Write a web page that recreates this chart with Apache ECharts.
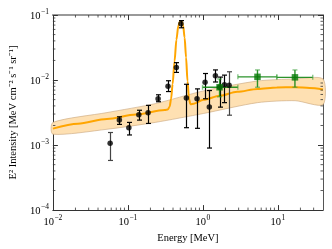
<!DOCTYPE html>
<html><head><meta charset="utf-8">
<script src="https://cdn.jsdelivr.net/npm/echarts@6/dist/echarts.min.js"></script>
<style>html,body{margin:0;padding:0;background:#fff}#c{width:332px;height:249px}</style>
</head><body><div id="c"></div>
<script>
// ---- data ----
const blackE  = [0.058, 0.077, 0.103, 0.140, 0.186, 0.253, 0.343, 0.443, 0.510, 0.603, 0.836, 1.07, 1.22, 1.47, 1.67, 1.94, 2.24];
const blackI  = [1.07e-3, 2.42e-3, 1.85e-3, 2.92e-3, 3.13e-3, 5.15e-3, 8.04e-3, 1.56e-2, 7.31e-2, 5.28e-3, 5.15e-3, 9.23e-3, 3.86e-3, 1.16e-2, 7.74e-3, 8.49e-3, 8.32e-3];
const blackLo = [5.8e-4, 2.08e-3, 1.43e-3, 2.42e-3, 2.15e-3, 4.64e-3, 6.65e-3, 1.31e-2, 6.36e-2, 1.85e-3, 1.81e-3, 5.15e-3, 9.0e-4, 9.33e-3, 3.83e-3, 4.49e-3, 2.88e-3];
const blackHi = [1.56e-3, 2.72e-3, 2.23e-3, 3.43e-3, 4.08e-3, 5.93e-3, 9.75e-3, 1.85e-2, 8.2e-2, 8.6e-3, 7.31e-3, 1.26e-2, 6.89e-3, 1.43e-2, 1.11e-2, 1.19e-2, 1.34e-2];

const greenE   = [1.67, 5.35, 16.9];
const greenElo = [0.99, 2.93, 9.69];
const greenEhi = [2.93, 9.69, 29.2];
const greenI   = [7.74e-3, 1.12e-2, 1.10e-2];
const greenIlo = [5.52e-3, 7.74e-3, 7.74e-3];
const greenIhi = [1.04e-2, 1.43e-2, 1.43e-2];

const modelE = [0.01, 0.0216, 0.0526, 0.128, 0.311, 0.340, 0.361, 0.377, 0.395, 0.419, 0.444, 0.471, 0.500, 0.523, 0.546, 0.571, 0.597, 0.624, 0.653, 0.682, 0.757, 1.02, 1.69, 2.87, 5.35, 9.68, 17.0, 26.5, 40];
const modelI = [1.79e-3, 2.13e-3, 2.52e-3, 2.95e-3, 3.45e-3, 3.51e-3, 3.90e-3, 5.15e-3, 8.69e-3, 1.94e-2, 4.18e-2, 6.81e-2, 8.11e-2, 8.11e-2, 6.81e-2, 4.49e-2, 2.23e-2, 9.66e-3, 5.15e-3, 4.26e-3, 4.33e-3, 4.98e-3, 5.73e-3, 6.58e-3, 7.31e-3, 7.70e-3, 7.74e-3, 7.56e-3, 7.18e-3];

const bandE  = [0.01, 0.0527, 0.231, 1.02, 5.35, 17.0, 40];
const bandHi = [2.23e-3, 3.16e-3, 4.33e-3, 6.81e-3, 9.66e-3, 1.04e-2, 1.04e-2];
const bandLo = [1.47e-3, 1.75e-3, 2.23e-3, 3.06e-3, 4.49e-3, 4.81e-3, 4.18e-3];

const xTicks = [0.01, 0.1, 1, 10];
const yTicks = [1e-4, 1e-3, 1e-2, 1e-1];
const xLabel = 'Energy [MeV]';
const yLabel = 'E² Intensity [MeV cm⁻² s⁻¹ sr⁻¹]';
// ---------------------------------------

const SERIF = 'Liberation Serif, Times New Roman, serif';
const X_MIN = 0.01, X_MAX = 40, Y_MIN = 1e-4, Y_MAX = 0.1;

function powLabel(v) {
  const l = Math.log10(v), e = Math.round(l);
  if (Math.abs(l - e) > 1e-6) return '';
  return '{b|10}{s|' + (e < 0 ? '\u2212' : '') + Math.abs(e) + '}';
}
const rich = {
  b: { fontFamily: SERIF, fontSize: 10.5, color: '#000', lineHeight: 14, verticalAlign: 'bottom' },
  s: { fontFamily: SERIF, fontSize: 7.5, color: '#000', lineHeight: 14, verticalAlign: 'top', padding: [0, 0, 0, 0.5] }
};

// minor tick values (2..9 x 10^k) within axis ranges
const minorX = [], minorY = [];
for (let k = -2; k <= 1; k++) for (let m = 2; m <= 9; m++) { const v = m * Math.pow(10, k); if (v < X_MAX) minorX.push(v); }
for (let k = -4; k <= -2; k++) for (let m = 2; m <= 9; m++) minorY.push(m * Math.pow(10, k));

const chart = echarts.init(document.getElementById('c'), null, { renderer: 'canvas' });

const axisCommonX = {
  type: 'log', logBase: 10, min: X_MIN, max: X_MAX,
  splitLine: { show: false },
  axisTick: { inside: true, length: 5, lineStyle: { color: '#333', width: 1 } },
};
const axisCommonY = {
  type: 'log', logBase: 10, min: Y_MIN, max: Y_MAX,
  splitLine: { show: false },
  axisTick: { inside: true, length: 5, lineStyle: { color: '#333', width: 1 } },
};

chart.setOption({
  animation: false,
  grid: { left: 44, right: 9, top: 15, bottom: 36, containLabel: false },
  xAxis: [
    Object.assign({}, axisCommonX, {
      position: 'bottom',
      axisLine: { show: true, lineStyle: { color: '#333', width: 1 } },
      axisLabel: { formatter: powLabel, rich: rich, margin: 4, showMaxLabel: false },
      name: xLabel, nameLocation: 'middle', nameGap: 13,
      nameTextStyle: { fontFamily: SERIF, fontSize: 10.5, color: '#000' }
    }),
    Object.assign({}, axisCommonX, {
      position: 'top',
      axisLine: { show: true, lineStyle: { color: '#999', width: 2 } },
      axisLabel: { show: false }
    })
  ],
  yAxis: [
    Object.assign({}, axisCommonY, {
      position: 'left',
      axisLine: { show: true, lineStyle: { color: '#333', width: 1 } },
      axisLabel: { formatter: powLabel, rich: rich, margin: 4 },
      name: yLabel, nameLocation: 'middle', nameGap: 27,
      nameTextStyle: { fontFamily: SERIF, fontSize: 10.5, color: '#000' }
    }),
    Object.assign({}, axisCommonY, {
      position: 'right',
      axisLine: { show: true, lineStyle: { color: '#555', width: 1 } },
      axisLabel: { show: false }
    })
  ],
  series: [
    { // uncertainty band
      type: 'custom', coordinateSystem: 'cartesian2d', silent: true, z: 1,
      data: [[bandE[0], bandHi[0]]],
      renderItem: function (params, api) {
        const pts = [];
        for (let i = 0; i < bandE.length; i++) pts.push(api.coord([bandE[i], bandHi[i]]));
        for (let i = bandE.length - 1; i >= 0; i--) pts.push(api.coord([bandE[i], bandLo[i]]));
        return { type: 'polygon', shape: { points: pts, smooth: 0.25 },
                 style: { fill: '#fee0b2', stroke: '#c8a57c', lineWidth: 0.6 } };
      }
    },
    { // model curve
      type: 'line', z: 2, symbol: 'none', smooth: 0.3, smoothMonotone: 'x',
      data: modelE.map((e, i) => [e, modelI[i]]),
      lineStyle: { color: '#ffa500', width: 2 }
    },
    { // black error bars
      type: 'custom', coordinateSystem: 'cartesian2d', silent: true, z: 3,
      data: blackE.map((e, i) => [e, blackI[i], blackLo[i], blackHi[i]]),
      renderItem: function (params, api) {
        const e = api.value(0);
        const lo = api.coord([e, api.value(2)]), hi = api.coord([e, api.value(3)]);
        const faded = (params.dataIndex === 0 || params.dataIndex === blackE.length - 1);
        const x = Math.round(lo[0]) + 0.5;
        const st = { stroke: faded ? '#444' : '#000', lineWidth: 1.2 };
        const cw = 2.5;
        return { type: 'group', children: [
          { type: 'line', shape: { x1: x, y1: lo[1], x2: x, y2: hi[1] }, style: st },
          { type: 'line', shape: { x1: x - cw, y1: lo[1], x2: x + cw, y2: lo[1] }, style: st },
          { type: 'line', shape: { x1: x - cw, y1: hi[1], x2: x + cw, y2: hi[1] }, style: st }
        ]};
      }
    },
    { // green error bars
      type: 'custom', coordinateSystem: 'cartesian2d', silent: true, z: 4,
      data: greenE.map((e, i) => [e, greenI[i], greenElo[i], greenEhi[i], greenIlo[i], greenIhi[i]]),
      renderItem: function (params, api) {
        const e = api.value(0), v = api.value(1);
        const l = api.coord([api.value(2), v]), r = api.coord([api.value(3), v]);
        const b = api.coord([e, api.value(4)]), t = api.coord([e, api.value(5)]);
        const st = { stroke: 'rgba(20,135,20,0.9)', lineWidth: 1.4 };
        const cap = { stroke: 'rgba(60,160,60,0.6)', lineWidth: 1.4 };
        const cw = 2.5;
        return { type: 'group', children: [
          { type: 'line', shape: { x1: l[0], y1: l[1], x2: r[0], y2: r[1] }, style: st },
          { type: 'line', shape: { x1: b[0], y1: b[1], x2: t[0], y2: t[1] }, style: st },
          { type: 'line', shape: { x1: l[0], y1: l[1] - cw, x2: l[0], y2: l[1] + cw }, style: cap },
          { type: 'line', shape: { x1: r[0], y1: r[1] - cw, x2: r[0], y2: r[1] + cw }, style: cap },
          { type: 'line', shape: { x1: b[0] - cw, y1: b[1], x2: b[0] + cw, y2: b[1] }, style: cap },
          { type: 'line', shape: { x1: t[0] - cw, y1: t[1], x2: t[0] + cw, y2: t[1] }, style: cap }
        ]};
      }
    },
    { // black points
      type: 'scatter', z: 5, symbol: 'circle', symbolSize: 5.5,
      data: blackE.map((e, i) => [e, blackI[i]]),
      itemStyle: { color: '#000' }
    },
    { // green points
      type: 'scatter', z: 6, symbol: 'rect', symbolSize: 6.5,
      data: greenE.map((e, i) => [e, greenI[i]]),
      itemStyle: { color: '#087a08' }
    },
    { // minor ticks on all four sides
      type: 'custom', coordinateSystem: 'cartesian2d', silent: true, z: 7,
      data: [[X_MIN, Y_MIN]],
      renderItem: function (params, api) {
        const ch = [], L = 2.5, st = { stroke: '#333', lineWidth: 0.8 };
        const yb = api.coord([X_MIN, Y_MIN])[1], yt = api.coord([X_MIN, Y_MAX])[1];
        const xl = api.coord([X_MIN, Y_MIN])[0], xr = api.coord([X_MAX, Y_MIN])[0];
        minorX.forEach(v => {
          const x = api.coord([v, Y_MIN])[0];
          ch.push({ type: 'line', shape: { x1: x, y1: yb, x2: x, y2: yb - L }, style: st });
          ch.push({ type: 'line', shape: { x1: x, y1: yt, x2: x, y2: yt + L }, style: st });
        });
        minorY.forEach(v => {
          const y = api.coord([X_MIN, v])[1];
          ch.push({ type: 'line', shape: { x1: xl, y1: y, x2: xl + L, y2: y }, style: st });
          ch.push({ type: 'line', shape: { x1: xr, y1: y, x2: xr - L, y2: y }, style: st });
        });
        return { type: 'group', children: ch };
      }
    }
  ]
});
</script>
</body></html>
